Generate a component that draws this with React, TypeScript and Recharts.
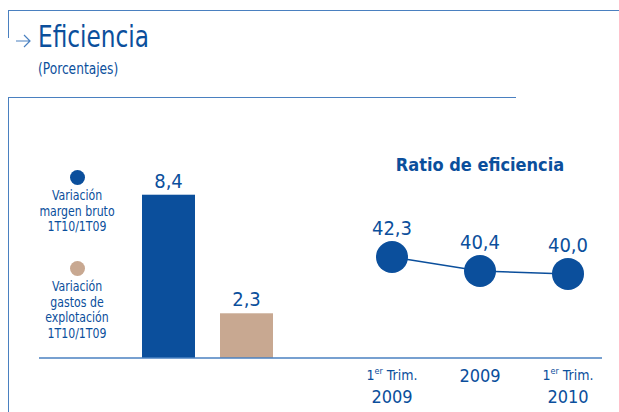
import { Bar, BarChart, LabelList, Line, LineChart, XAxis, YAxis } from "recharts";

const BLUE = "#0b4f9c";
const TAN = "#c8a891";
const RULE = "#4a80c0";
const FONT = "'DejaVu Sans Condensed', 'DejaVu Sans', sans-serif";

// variación interanual
const variaciones = ["Variación margen bruto 1T10/1T09", "Variación gastos de explotación 1T10/1T09"];
const valoresVariacion = [8.4, 2.3];
const coloresVariacion = [BLUE, TAN];

// ratio de eficiencia
const periodos = ["1er Trim. 2009", "2009", "1er Trim. 2010"];
const ratios = [42.3, 40.4, 40.0];

const dataBarras = variaciones.map((nombre, i) => ({ nombre, valor: valoresVariacion[i], color: coloresVariacion[i] }));
const dataRatio = periodos.map((periodo, i) => ({ periodo, ratio: ratios[i] }));

const coma = (v: any) => Number(v).toFixed(1).replace(".", ",");

function BarraColor(props: any) {
  const { x, y, width, height, payload } = props;
  return <rect x={x} y={y} width={width} height={height} fill={payload.color} />;
}

function TickPeriodo({ x, y, payload }: any) {
  const v: string = payload.value;
  if (!v.startsWith("1er")) {
    return (
      <text x={x} y={y + 16} textAnchor="middle" fill={BLUE} fontSize={18} fontFamily={FONT}>{v}</text>
    );
  }
  const anio = v.split(" ").pop();
  return (
    <g>
      <text x={x} y={y + 14} textAnchor="middle" fill={BLUE} fontSize={14} fontFamily={FONT}>
        1<tspan fontSize={9} dy={-6}>er</tspan><tspan dy={6}> Trim.</tspan>
      </text>
      <text x={x} y={y + 37} textAnchor="middle" fill={BLUE} fontSize={18} fontFamily={FONT}>{anio}</text>
    </g>
  );
}

function Leyenda() {
  const lines = [
    ["Variación", "margen bruto", "1T10/1T09"],
    ["Variación", "gastos de", "explotación", "1T10/1T09"],
  ];
  const tops = [170, 261];
  return (
    <>
      {lines.map((ls, i) => (
        <div key={i} style={{ position: "absolute", left: 27, top: tops[i], width: 100, textAlign: "center", color: BLUE }}>
          <div style={{ width: 15, height: 15, borderRadius: "50%", background: coloresVariacion[i], margin: "0 auto 3px" }} />
          <div style={{ fontFamily: FONT, fontSize: 14, lineHeight: "15.5px", transform: "scaleX(0.87)" }}>
            {ls.map((l, j) => <div key={j}>{l}</div>)}
          </div>
        </div>
      ))}
    </>
  );
}

export default function App() {
  return (
    <div style={{ position: "absolute", left: 0, top: 0, width: 619, height: 412, background: "#fff", overflow: "hidden" }}>
      <div style={{ position: "absolute", left: 8, top: 10, width: 611, height: 27, borderTop: `1.5px solid ${RULE}`, borderLeft: `1.5px solid ${RULE}` }} />
      <div style={{ position: "absolute", left: 8, top: 97, width: 507, height: 320, borderTop: `1.5px solid ${RULE}`, borderLeft: `1.5px solid ${RULE}` }} />
      <svg style={{ position: "absolute", left: 14, top: 33 }} width={20} height={16}>
        <path d="M2 8 H16 M10 2 L16 8 L10 14" stroke={RULE} strokeWidth={1.2} fill="none" />
      </svg>
      <div style={{ position: "absolute", left: 38, top: 19, color: BLUE, fontFamily: FONT, fontSize: 30, whiteSpace: "nowrap", transform: "scaleX(0.86)", transformOrigin: "left" }}>
        Eficiencia
      </div>
      <div style={{ position: "absolute", left: 38, top: 59, color: BLUE, fontFamily: FONT, fontSize: 16, transform: "scaleX(0.85)", transformOrigin: "left" }}>(Porcentajes)</div>
      <div style={{ position: "absolute", left: 340, top: 154, width: 280, textAlign: "center", color: BLUE, fontFamily: FONT, fontWeight: "bold", fontSize: 18 }}>
        Ratio de eficiencia
      </div>
      <Leyenda />

      <div style={{ position: "absolute", left: 39, top: 150 }}>
        <BarChart width={301} height={240} data={dataBarras} margin={{ top: 0, right: 0, bottom: 0, left: 0 }}>
          <XAxis dataKey="nombre" height={32} tick={false} tickLine={false} axisLine={{ stroke: RULE, strokeWidth: 1.5 }} padding={{ left: 90, right: 55 }} />
          <YAxis hide domain={[0, 10.7]} />
          <Bar dataKey="valor" barSize={53} shape={<BarraColor />} isAnimationActive={false}>
            <LabelList dataKey="valor" position="top" offset={7} formatter={coma} fill={BLUE} fontSize={20} fontFamily={FONT} />
          </Bar>
        </BarChart>
      </div>

      <div style={{ position: "absolute", left: 340, top: 150 }}>
        <LineChart width={262} height={262} data={dataRatio} margin={{ top: 0, right: 0, bottom: 0, left: 0 }}>
          <XAxis dataKey="periodo" height={54} tickLine={false} interval={0} tick={<TickPeriodo />} axisLine={{ stroke: RULE, strokeWidth: 1.5 }} padding={{ left: 52, right: 34 }} />
          <YAxis hide domain={[28.6, 56.8]} />
          <Line dataKey="ratio" stroke={BLUE} strokeWidth={1.5} dot={{ r: 16, fill: BLUE, stroke: BLUE, strokeWidth: 0 }} activeDot={false} isAnimationActive={false}>
            <LabelList dataKey="ratio" position="top" offset={22} formatter={coma} fill={BLUE} fontSize={20} fontFamily={FONT} />
          </Line>
        </LineChart>
      </div>
    </div>
  );
}
